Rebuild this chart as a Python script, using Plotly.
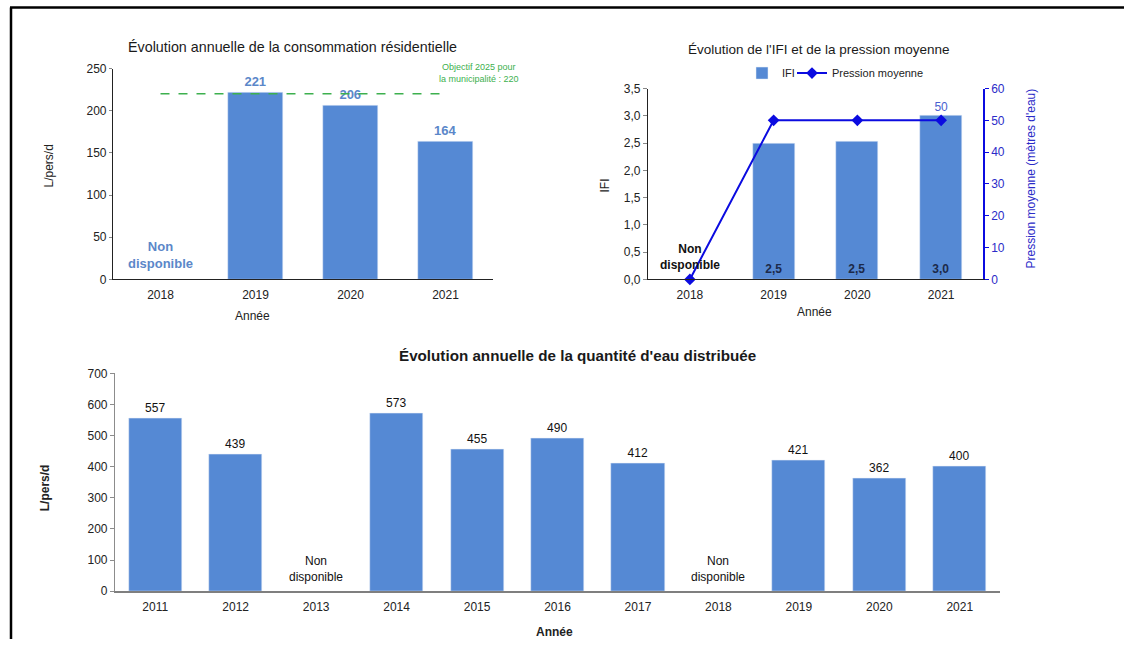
import plotly.graph_objects as go

# ---------------- data ----------------
res_years = ["2018", "2019", "2020", "2021"]
res_values = [None, 221, 206, 164]
res_target = 220
res_target_span = ["2018", "2021"]
res_missing = ["2018"]

ifi_years = ["2018", "2019", "2020", "2021"]
ifi_values = [None, 2.5, 2.52, 3.0]
ifi_labels = ["", "2,5", "2,5", "3,0"]
ifi_missing = ["2018"]
pression_values = [0, 50, 50, 50]
pression_labels = ["", "", "", "50"]

dist_years = ["2011", "2012", "2013", "2014", "2015", "2016", "2017", "2018", "2019", "2020", "2021"]
dist_values = [557, 439, None, 573, 455, 490, 412, None, 421, 362, 400]
dist_missing = ["2013", "2018"]

res_ticks = [0, 50, 100, 150, 200, 250]
ifi_ticks = [0, 0.5, 1.0, 1.5, 2.0, 2.5, 3.0, 3.5]
pres_ticks = [0, 10, 20, 30, 40, 50, 60]
dist_ticks = [0, 100, 200, 300, 400, 500, 600, 700]

# ---------------- style ----------------
W, H = 1124, 646
BAR = "#5589D4"
FONT = "Liberation Sans, Arial, sans-serif"
PBLUE = "#0B0BE0"
# small vertical correction observed in the rendering pipeline
VS, VO = 0.979, 6.4


def px(x):
    return x / W


def py(y):
    yd = (y - VO) / VS
    return min(1.0, max(0.0, 1 - yd / H))


fig = go.Figure()

# Chart 1: consommation résidentielle
fig.add_trace(go.Bar(
    x=res_years, y=res_values, marker_color=BAR, width=0.58,
    text=[("" if v is None else str(v)) for v in res_values], textposition="outside",
    textfont=dict(color="#5B87C9", size=13, family=FONT, weight="bold"),
    cliponaxis=False, showlegend=False, xaxis="x", yaxis="y"))
fig.add_trace(go.Scatter(
    x=res_target_span, y=[res_target, res_target], mode="lines",
    line=dict(color="#3DB04E", width=1.5, dash="dash"),
    showlegend=False, xaxis="x", yaxis="y"))

# Chart 2: IFI + pression
fig.add_trace(go.Bar(
    x=ifi_years, y=ifi_values, name="IFI", marker_color=BAR, width=0.5,
    text=ifi_labels, textposition="inside", insidetextanchor="start",
    textfont=dict(color="#1C2A4A", size=12, family=FONT, weight="bold"),
    legend="legend", xaxis="x2", yaxis="y2"))
fig.add_trace(go.Scatter(
    x=ifi_years, y=pression_values, name="Pression moyenne", mode="lines+markers+text",
    line=dict(color=PBLUE, width=2), marker=dict(symbol="diamond", size=9, color=PBLUE),
    text=pression_labels, textposition="top center",
    textfont=dict(color="#4A5FD0", size=12, family=FONT),
    cliponaxis=False, legend="legend2", xaxis="x2", yaxis="y3"))

# Chart 3: quantité d'eau distribuée
fig.add_trace(go.Bar(
    x=dist_years, y=dist_values, marker_color=BAR, width=0.66,
    text=[("" if v is None else str(v)) for v in dist_values], textposition="outside",
    textfont=dict(color="#111111", size=12, family=FONT),
    cliponaxis=False, showlegend=False, xaxis="x4", yaxis="y4"))

axis_common = dict(showgrid=False, zeroline=False, tickfont=dict(size=12, color="#222222", family=FONT))
legend_common = dict(orientation="h", xanchor="left", yanchor="top",
                     font=dict(size=11, color="#222222", family=FONT), itemwidth=30,
                     bgcolor="rgba(0,0,0,0)")

fig.update_layout(
    width=W, height=H, autosize=False,
    margin=dict(l=0, r=0, t=0, b=0),
    paper_bgcolor="white", plot_bgcolor="white",
    separators=", ",
    font=dict(family=FONT, color="#222222"),
    bargap=0,
    xaxis=dict(domain=[px(113), px(493)], anchor="y", type="category", range=[-0.5, 3.5],
               showline=True, linecolor="#222222", linewidth=1.2, ticks="", ticklabelstandoff=4,
               **axis_common),
    yaxis=dict(domain=[py(279), py(68)], anchor="x", range=[0, 250], tickvals=res_ticks,
               showline=True, linecolor="#222222", linewidth=1.2, ticks="outside", ticklen=3,
               tickcolor="#888888", **axis_common),
    xaxis2=dict(domain=[px(648), px(983)], anchor="y2", type="category", range=[-0.5, 3.5],
                showline=True, linecolor="#222222", linewidth=1.2, ticks="", ticklabelstandoff=4,
                **axis_common),
    yaxis2=dict(domain=[py(279), py(88)], anchor="x2", range=[0, 3.5], tickvals=ifi_ticks,
                tickformat=".1f", showline=True, linecolor="#222222", linewidth=1.2,
                ticks="outside", ticklen=4, tickcolor="#888888", **axis_common),
    yaxis3=dict(overlaying="y2", side="right", anchor="x2", range=[0, 60], tickvals=pres_ticks,
                showgrid=False, zeroline=False, showline=True, linecolor=PBLUE, linewidth=1.5,
                ticks="outside", ticklen=4, tickcolor=PBLUE,
                tickfont=dict(size=12, color="#2B2BC8", family=FONT)),
    xaxis4=dict(domain=[px(115), px(1000)], anchor="y4", type="category", range=[-0.5, 10.5],
                showline=True, linecolor="#7F7F7F", linewidth=2, ticks="", ticklabelstandoff=3,
                **axis_common),
    yaxis4=dict(domain=[py(591), py(373)], anchor="x4", range=[0, 700], tickvals=dist_ticks,
                showline=True, linecolor="#8C8C8C", linewidth=1.2, ticks="outside", ticklen=4,
                tickcolor="#8C8C8C", **axis_common),
    legend=dict(x=px(742), y=py(58), **legend_common),
    legend2=dict(x=px(792), y=py(58), **legend_common),
)

ann = []


def add_text(x, y, text, size=12, color="#222222", bold=False, angle=0, xref="paper", yref="paper",
             xanchor="center", yanchor="middle", yshift=0):
    ann.append(dict(x=x, y=y, xref=xref, yref=yref, text=text, showarrow=False,
                    font=dict(size=size, color=color, family=FONT, weight="bold" if bold else "normal"),
                    textangle=angle, xanchor=xanchor, yanchor=yanchor, yshift=yshift))


# titles
add_text(px(292), py(46), "Évolution annuelle de la consommation résidentielle", size=14.3, color="#1A1A1A")
add_text(px(818), py(49), "Évolution de l'IFI et de la pression moyenne", size=13.5, color="#1A1A1A")
add_text(px(577), py(355), "Évolution annuelle de la quantité d'eau distribuée", size=15.2, color="#1A1A1A", bold=True)

# axis titles
add_text(px(252), py(316), "Année", size=12)
add_text(px(49), py(166), "L/pers/d", size=12, angle=-90)
add_text(px(814), py(312), "Année", size=12)
add_text(px(605), py(185), "IFI", size=12, angle=-90)
add_text(px(1031), py(178), "Pression moyenne (mètres d'eau)", size=12, color="#2B2BC8", angle=-90)
add_text(px(554), py(632), "Année", size=12, bold=True)
add_text(px(45), py(488), "L/pers/d", size=12, bold=True, angle=-90)

# target note
add_text(px(479), py(72), "Objectif 2025 pour<br>la municipalité : 220", size=9, color="#3DB04E")

# non disponible labels (positioned on the category of each missing year)
for yr in res_missing:
    add_text(res_years.index(yr), 0, "Non<br>disponible", size=13, color="#5B87C9", bold=True,
             xref="x", yref="y", yanchor="bottom", yshift=6)
for yr in ifi_missing:
    add_text(ifi_years.index(yr), 0, "Non<br>disponible", size=12, color="#111111", bold=True,
             xref="x2", yref="y2", yanchor="bottom", yshift=5)
for yr in dist_missing:
    add_text(dist_years.index(yr), 0, "Non<br>disponible", size=12, color="#111111",
             xref="x4", yref="y4", yanchor="bottom", yshift=5)

fig.update_layout(annotations=ann)

# frame
fig.add_shape(type="line", xref="paper", yref="paper", x0=px(10), x1=1, y0=py(7), y1=py(7),
              line=dict(color="black", width=2.5))
fig.add_shape(type="line", xref="paper", yref="paper", x0=px(11), x1=px(11), y0=py(7), y1=0,
              line=dict(color="black", width=2.5))

POST = (
    "document.documentElement.style.margin='0';"
    "document.body.style.margin='0';document.body.style.overflow='hidden';"
    "var gd=document.querySelector('.plotly-graph-div');"
    "gd.style.position='fixed';gd.style.top='0px';gd.style.left='0px';"
)

fig.write_html("out.html", config={"displayModeBar": False}, post_script=POST)
